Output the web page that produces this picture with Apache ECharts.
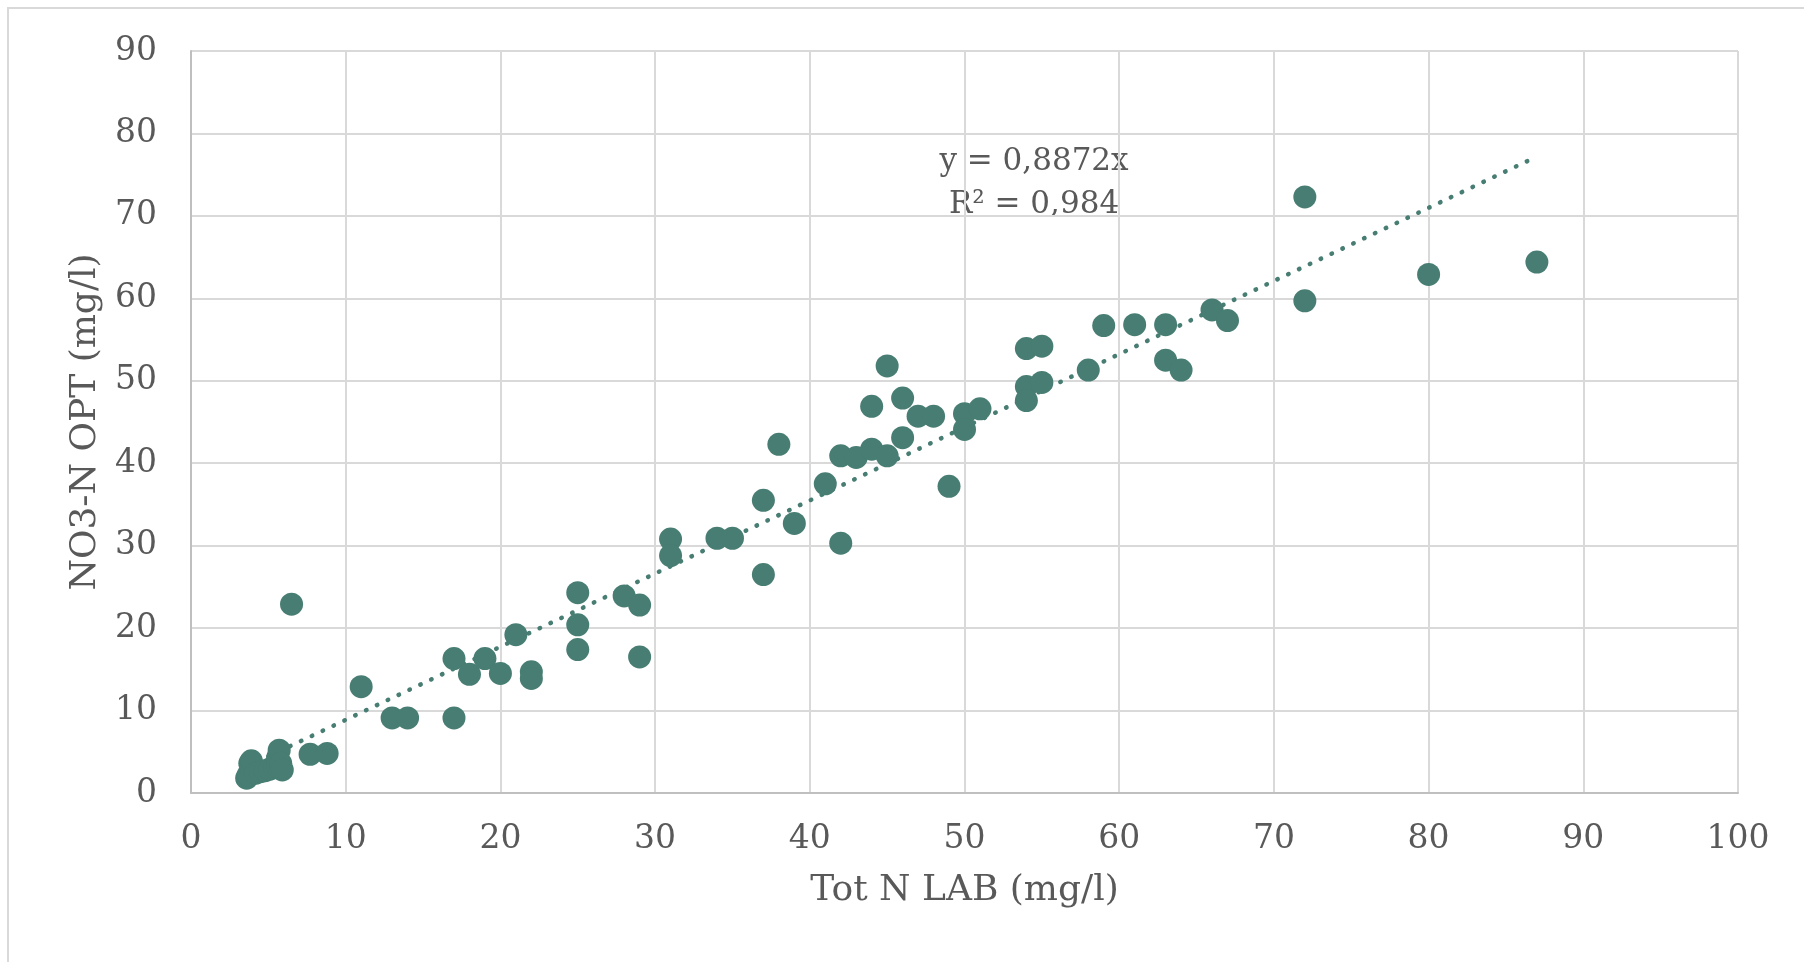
<!DOCTYPE html>
<html>
<head>
<meta charset="utf-8">
<title>NO3-N OPT vs Tot N LAB</title>
<script src="https://cdn.jsdelivr.net/npm/echarts@6/dist/echarts.min.js"></script>
<style>
  html, body { margin: 0; padding: 0; background: #fff; }
  #chart { width: 1804px; height: 962px; }
</style>
</head>
<body>
<div id="chart"></div>
<script>
// Tot N LAB (mg/l) - x values
var totN = [
  3.6, 3.7, 3.8, 3.9, 4.2, 4.5, 4.8, 5.1, 5.4, 5.6, 5.6, 5.7, 5.8, 5.9,
  6.5, 7.7, 8.8, 11, 13, 14, 17, 17, 18, 19, 20, 21, 22, 22,
  25, 25, 25, 28, 29, 29, 31, 31, 34, 35, 37, 37, 38, 39,
  41, 42, 42, 43, 44, 44, 45, 45, 46, 46, 47, 48, 49, 50, 50, 51,
  54, 54, 54, 55, 55, 58, 59, 61, 63, 63, 64, 66, 67, 72, 72, 80, 87
]
// NO3-N OPT (mg/l) - y values
var no3N = [
  1.8, 2.2, 3.6, 3.9, 2.4, 2.6, 2.7, 2.9, 3.1, 3.2, 4.3, 5.2, 3.6, 2.8,
  22.9, 4.7, 4.8, 12.9, 9.1, 9.1, 16.3, 9.1, 14.4, 16.3, 14.5, 19.2, 14.7, 13.9,
  24.3, 20.4, 17.4, 23.9, 22.8, 16.5, 30.8, 28.8, 30.9, 30.9, 35.5, 26.5, 42.3, 32.7,
  37.5, 40.9, 30.3, 40.7, 46.9, 41.7, 51.8, 40.9, 47.9, 43.1, 45.7, 45.7, 37.2, 46.0, 44.1, 46.6,
  53.9, 49.3, 47.6, 54.2, 49.8, 51.3, 56.7, 56.8, 56.8, 52.5, 51.3, 58.6, 57.3, 72.3, 59.7, 62.9, 64.4
]
// linear trendline (through origin), ends
var trendX = [3.6, 87]
var trendY = [3.19, 77.19]
var trendText = ['y = 0,8872x', 'R² = 0,984']

var xTicks = { min: 0, max: 100, interval: 10 }
var yTicks = { min: 0, max: 90, interval: 10 }

var color = '#477d72'
var textColor = '#595959'
var font = 'DejaVu Serif'

var points = totN.map(function(x, i) { return [x, no3N[i]] })
var trend = trendX.map(function(x, i) { return [x, trendY[i]] })

var chart = echarts.init(document.getElementById('chart'))
chart.setOption({
  animation: false,
  backgroundColor: '#fff',
  textStyle: { fontFamily: font, color: textColor },
  grid: { left: 191, right: 66, top: 51, bottom: 169 },
  graphic: [
    {
      type: 'rect',
      shape: { x: 8, y: 8, width: 1810, height: 970 },
      style: { fill: 'none', stroke: '#d9d9d9', lineWidth: 2 },
      silent: true
    },
    {
      type: 'text',
      x: 1034,
      y: 183,
      style: {
        text: trendText.join('\n'),
        font: '31px "DejaVu Serif"',
        fill: textColor,
        align: 'center',
        verticalAlign: 'middle',
        lineHeight: 43
      },
      silent: true
    }
  ],
  xAxis: {
    type: 'value',
    min: xTicks.min,
    max: xTicks.max,
    interval: xTicks.interval,
    name: 'Tot N LAB (mg/l)',
    nameLocation: 'middle',
    nameGap: 80,
    nameTextStyle: { fontSize: 36, color: textColor, fontFamily: font },
    axisLine: { show: true, lineStyle: { color: '#bfbfbf', width: 2 } },
    axisTick: { show: false },
    axisLabel: { fontSize: 33, color: textColor, fontFamily: font, margin: 30 },
    splitLine: { show: true, lineStyle: { color: '#d9d9d9', width: 2 } }
  },
  yAxis: {
    type: 'value',
    min: yTicks.min,
    max: yTicks.max,
    interval: yTicks.interval,
    name: 'NO3-N OPT (mg/l)',
    nameLocation: 'middle',
    nameGap: 87,
    nameTextStyle: { fontSize: 36, color: textColor, fontFamily: font },
    axisLine: { show: true, lineStyle: { color: '#bfbfbf', width: 2 } },
    axisTick: { show: false },
    axisLabel: { fontSize: 33, color: textColor, fontFamily: font, margin: 34 },
    splitLine: { show: true, lineStyle: { color: '#d9d9d9', width: 2 } }
  },
  series: [
    {
      name: 'Trend',
      type: 'line',
      data: trend,
      showSymbol: false,
      silent: true,
      z: 1,
      lineStyle: { color: color, width: 4.5, type: [0.5, 11.5], cap: 'round' }
    },
    {
      name: 'NO3-N OPT',
      type: 'scatter',
      data: points,
      symbol: 'circle',
      symbolSize: 23,
      z: 2,
      itemStyle: { color: color, opacity: 1 }
    }
  ]
})
</script>
</body>
</html>
